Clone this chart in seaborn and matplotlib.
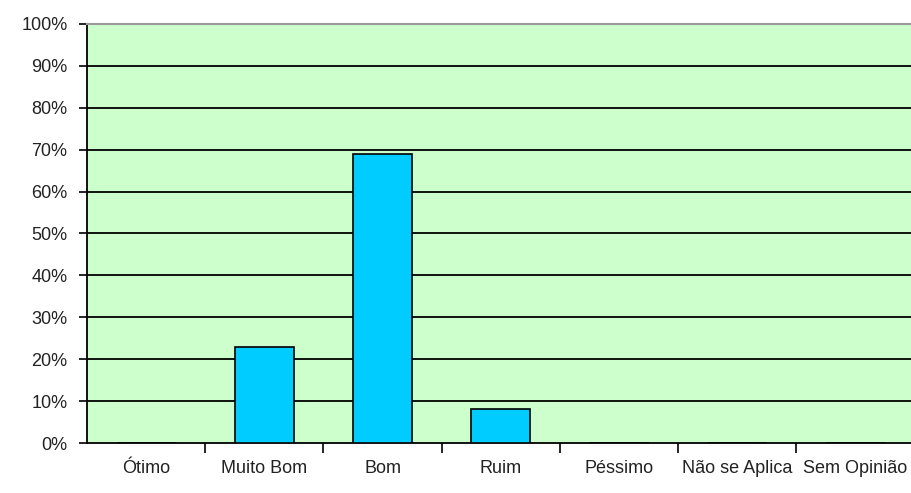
import pandas as pd
import matplotlib.pyplot as plt
import seaborn as sns
from matplotlib.ticker import FixedLocator

categories = ['Ótimo', 'Muito Bom', 'Bom', 'Ruim', 'Péssimo', 'Não se Aplica', 'Sem Opinião']
percent = [0, 23, 69, 8, 0, 0, 0]
y_ticks = [0, 10, 20, 30, 40, 50, 60, 70, 80, 90, 100]
y_labels = [f'{v}%' for v in y_ticks]

df = pd.DataFrame({'cat': categories, 'pct': percent})

sns.set_style('white')
plt.rcParams['font.family'] = ['Liberation Sans', 'DejaVu Sans']

fig = plt.figure(figsize=(9.11, 4.93), dpi=100)
ax = fig.add_axes([87 / 911, 50 / 493, 1 - 87 / 911, 419 / 493])
ax.set_facecolor('#ccffcc')

sns.barplot(data=df, x='cat', y='pct', order=categories, color='#00ccff',
            edgecolor='black', linewidth=1.2, width=0.5, saturation=1, ax=ax, zorder=3)

ax.set_ylim(0, 100)
ax.set_xlim(-0.5, 6.47)
ax.set_yticks(y_ticks)
ax.set_yticklabels(y_labels)
for v in y_ticks[1:-1]:
    ax.axhline(v, color='black', lw=1.3, zorder=1)

ax.xaxis.set_minor_locator(FixedLocator([i + 0.5 for i in range(6)]))
ax.tick_params(axis='x', which='major', length=0, pad=12, labelsize=13, labelcolor='#222222')
ax.tick_params(axis='x', which='minor', length=7, width=1.2, color='black', direction='out', bottom=True)
ax.tick_params(axis='y', length=6, width=1.2, color='black', direction='out', left=True, pad=8,
               labelsize=13, labelcolor='#222222')

for s in ['left', 'bottom']:
    ax.spines[s].set_color('black')
    ax.spines[s].set_linewidth(1.3)
ax.spines['top'].set_color('#999999')
ax.spines['top'].set_linewidth(1.5)
ax.spines['right'].set_visible(False)

ax.set_xlabel('')
ax.set_ylabel('')

fig.savefig('out.png', dpi=100)
